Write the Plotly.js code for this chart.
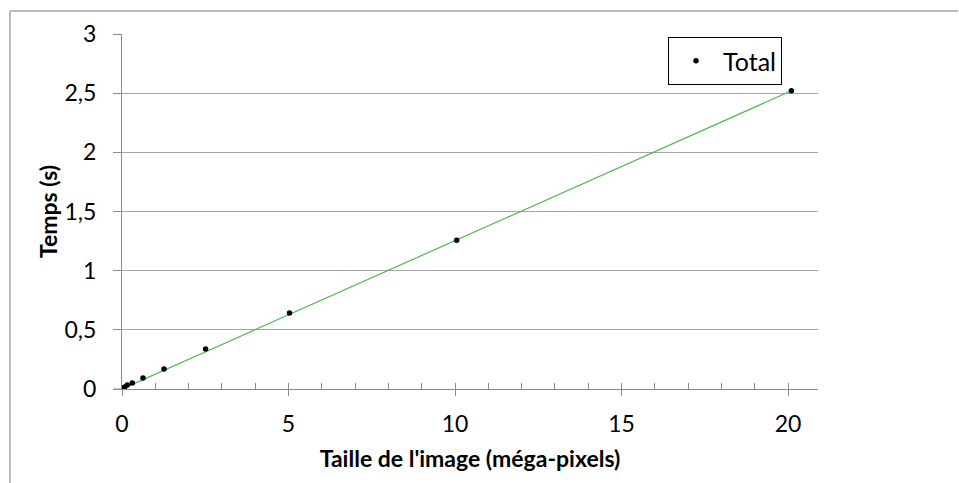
<!DOCTYPE html>
<html>
<head>
<meta charset="utf-8">
<script src="https://cdn.plot.ly/plotly-3.0.1.min.js"></script>
<style>html,body{margin:0;padding:0;background:#fff}#chart{width:959px;height:483px}</style>
</head>
<body>
<div id="chart"></div>
<script>
// Image size (megapixels) and total time (s)
const sizeMP = [0.04, 0.08, 0.16, 0.31, 0.63, 1.26, 2.51, 5.03, 10.05, 20.1];
const timeS  = [0.01, 0.017, 0.034, 0.05, 0.093, 0.169, 0.338, 0.642, 1.258, 2.52];
// Linear trend line endpoints
const trendX = [0, 20.1];
const trendY = [0, 2.52];
const seriesName = "Total";
const xTitle = "Taille de l'image (méga-pixels)";
const yTitle = "Temps (s)";

const W = 959, H = 483, L = 122, R = 141, T = 34, B = 94;
const pw = W - L - R, ph = H - T - B;
const px = v => (v - L) / pw;
const py = v => (H - B - v) / ph;

const FONT = "Lato, 'Open Sans', sans-serif";
const traces = [
  {x: trendX, y: trendY, mode: 'lines', line: {color: '#4cbb4c', width: 1.2}, showlegend: false, hoverinfo: 'skip'},
  {x: sizeMP, y: timeS, mode: 'markers', name: seriesName,
   marker: {color: '#000', size: 5.5}},
  {x: sizeMP, y: timeS, mode: 'markers', xaxis: 'x2', marker: {opacity: 0}, showlegend: false, hoverinfo: 'skip'}
];

const layout = {
  width: W, height: H,
  margin: {l: L, r: R, t: T, b: B},
  paper_bgcolor: '#fff', plot_bgcolor: '#fff',
  separators: ', ',
  font: {family: FONT, size: 22, color: '#000'},
  showlegend: true,
  legend: {x: px(668), y: py(37), xanchor: 'left', yanchor: 'top',
    bordercolor: '#000', borderwidth: 1, bgcolor: '#fff',
    font: {family: FONT, size: 25}, itemwidth: 44, entrywidth: 104, entrywidthmode: 'pixels'},
  xaxis: {range: [0, 20.9], dtick: 5, tick0: 0, showgrid: false, zeroline: false,
    showline: true, linecolor: '#8c8c8c', linewidth: 1,
    ticks: 'outside', ticklen: 6, tickcolor: '#8c8c8c', ticklabelstandoff: 8,
    tickfont: {family: FONT, size: 23},
    title: {text: xTitle, font: {family: FONT, size: 23, weight: 'bold'}, standoff: 15}},
  xaxis2: {overlaying: 'x', matches: 'x', range: [0, 20.9], dtick: 1, tick0: 0,
    showgrid: false, zeroline: false, showline: false, showticklabels: false,
    ticks: 'inside', ticklen: 6, tickcolor: '#8c8c8c', anchor: 'y', side: 'bottom'},
  yaxis: {range: [0, 3], dtick: 0.5, showgrid: true, gridcolor: '#a6a6a6', gridwidth: 1,
    zeroline: false, showline: true, linecolor: '#8c8c8c', linewidth: 1,
    ticks: 'outside', ticklen: 8, tickcolor: '#8c8c8c', ticklabelstandoff: 12,
    tickfont: {family: FONT, size: 23},
    title: {text: yTitle, font: {family: FONT, size: 23, weight: 'bold'}, standoff: 0}},
  shapes: [
    {type: 'line', xref: 'paper', yref: 'paper', x0: px(10), x1: px(958), y0: py(11), y1: py(11), line: {color: '#a6a6a6', width: 1.5}},
    {type: 'line', xref: 'paper', yref: 'paper', x0: px(10), x1: px(10), y0: py(11), y1: py(483), line: {color: '#a6a6a6', width: 1.5}},
    {type: 'line', xref: 'paper', yref: 'paper', x0: px(114), x1: px(122), y0: 0, y1: 0, line: {color: '#8c8c8c', width: 1}}
  ]
};

Plotly.newPlot('chart', traces, layout, {staticPlot: true, displayModeBar: false});
</script>
</body>
</html>
